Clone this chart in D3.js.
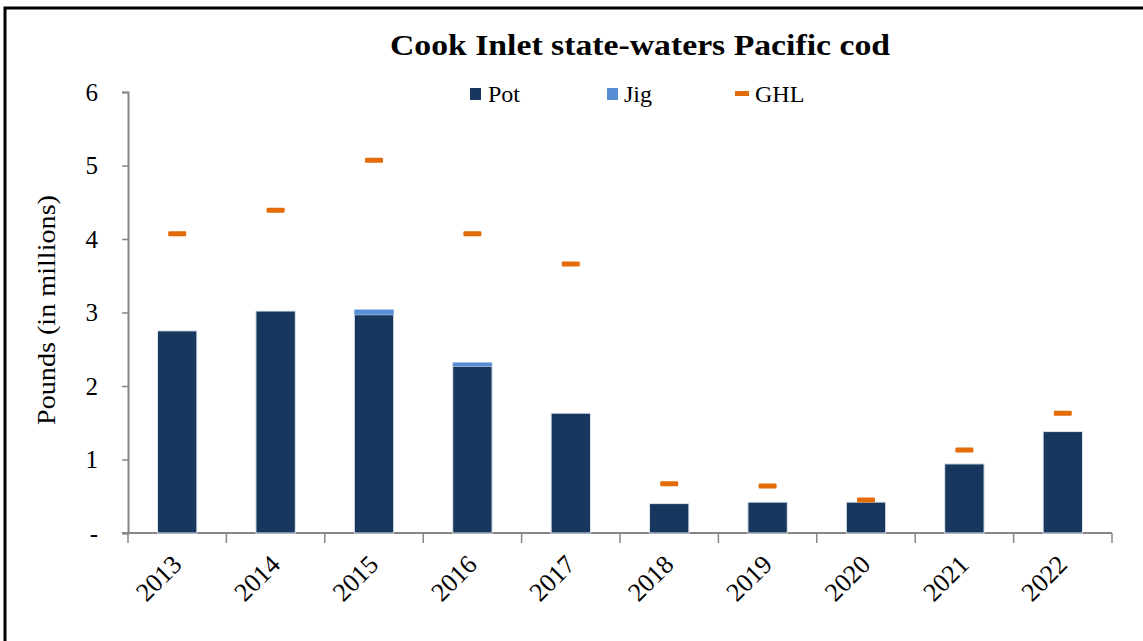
<!DOCTYPE html>
<html>
<head>
<meta charset="utf-8">
<script src="https://cdn.jsdelivr.net/npm/d3@7"></script>
<style>
  body { margin: 0; background: #fff; }
  svg { display: block; }
</style>
</head>
<body>
<svg></svg>
<script>
var years = ['2013', '2014', '2015', '2016', '2017', '2018', '2019', '2020', '2021', '2022'];
var pot = [2.75, 3.02, 2.97, 2.27, 1.63, 0.40, 0.42, 0.42, 0.94, 1.38];
var jig = [0.00, 0.00, 0.07, 0.05, 0.00, 0.00, 0.00, 0.00, 0.00, 0.00];
var ghl = [4.07, 4.39, 5.07, 4.07, 3.66, 0.67, 0.64, 0.45, 1.13, 1.63];
var yTicks = [0, 1, 2, 3, 4, 5, 6];

var width = 1143;
var height = 641;
var font = "'Liberation Serif', 'DejaVu Serif', serif";

var svg = d3.select('svg')
    .attr('width', width)
    .attr('height', height);

// outer frame
svg.append('rect')
    .attr('x', 5)
    .attr('y', 8)
    .attr('width', width + 20)
    .attr('height', height + 20)
    .attr('fill', 'none')
    .attr('stroke', '#000')
    .attr('stroke-width', 3);

var xScale = d3.scaleBand()
    .domain(years)
    .range([128, 1112])
    .paddingInner(0.6)
    .paddingOuter(0.3);

var yScale = d3.scaleLinear()
    .domain([0, 6])
    .range([533, 92]);

// title
svg.append('text')
    .attr('x', 640)
    .attr('y', 55)
    .attr('text-anchor', 'middle')
    .attr('textLength', 500)
    .attr('lengthAdjust', 'spacingAndGlyphs')
    .style('font-family', font)
    .style('font-weight', 'bold')
    .style('font-size', '30px')
    .text('Cook Inlet state-waters Pacific cod');

// y axis
var yAxis = d3.axisLeft(yScale)
    .tickValues(yTicks)
    .tickSize(6)
    .tickPadding(24)
    .tickFormat(d => d === 0 ? '-' : d);

var gy = svg.append('g')
    .attr('transform', 'translate(128,0)')
    .call(yAxis);
gy.select('.domain').attr('stroke', '#868686').attr('stroke-width', 2);
gy.selectAll('.tick line').attr('stroke', '#868686').attr('stroke-width', 1.5);
gy.selectAll('.tick text')
    .attr('fill', '#000')
    .style('font-family', font)
    .style('font-size', '25px');

// x axis line and band ticks
var bounds = years.map((d, i) => 128 + i * (1112 - 128) / years.length).concat([1112]);
svg.append('line')
    .attr('x1', 122).attr('x2', 1112)
    .attr('y1', yScale(0)).attr('y2', yScale(0))
    .attr('stroke', '#868686').attr('stroke-width', 2);
svg.selectAll('.xtick')
    .data(bounds)
    .enter()
    .append('line')
    .attr('class', 'xtick')
    .attr('x1', d => d).attr('x2', d => d)
    .attr('y1', yScale(0)).attr('y2', yScale(0) + 10)
    .attr('stroke', '#868686').attr('stroke-width', 1.5);

svg.selectAll('.xlabel')
    .data(years)
    .enter()
    .append('text')
    .attr('class', 'xlabel')
    .attr('text-anchor', 'end')
    .attr('transform', d => 'translate(' + (xScale(d) + xScale.bandwidth() / 2 + 6) + ',566) rotate(-45)')
    .style('font-family', font)
    .style('font-size', '26px')
    .text(d => d);

// y axis title
svg.append('text')
    .attr('transform', 'translate(55,310) rotate(-90)')
    .attr('text-anchor', 'middle')
    .attr('textLength', 230)
    .attr('lengthAdjust', 'spacingAndGlyphs')
    .style('font-family', font)
    .style('font-size', '25px')
    .text('Pounds (in millions)');

// pot bars
svg.selectAll('.pot')
    .data(years)
    .enter()
    .append('rect')
    .attr('class', 'pot')
    .attr('x', d => xScale(d))
    .attr('y', (d, i) => yScale(pot[i]))
    .attr('width', xScale.bandwidth())
    .attr('height', (d, i) => yScale(0) - yScale(pot[i]))
    .attr('fill', '#17375E')
    .attr('stroke', '#dde4ee')
    .attr('stroke-width', 1);

// jig bars stacked on pot
svg.selectAll('.jig')
    .data(years)
    .enter()
    .append('rect')
    .attr('class', 'jig')
    .attr('x', d => xScale(d))
    .attr('y', (d, i) => yScale(pot[i] + jig[i]))
    .attr('width', xScale.bandwidth())
    .attr('height', (d, i) => yScale(pot[i]) - yScale(pot[i] + jig[i]))
    .attr('fill', '#558ED5');

// GHL markers
svg.selectAll('.ghl')
    .data(years)
    .enter()
    .append('rect')
    .attr('class', 'ghl')
    .attr('x', d => xScale(d) + xScale.bandwidth() / 2 - 9)
    .attr('y', (d, i) => yScale(ghl[i]) - 2.5)
    .attr('width', 18)
    .attr('height', 5)
    .attr('rx', 1)
    .attr('fill', '#E36C09');

// legend
var legend = svg.append('g').attr('class', 'legend');
legend.append('rect').attr('x', 470).attr('y', 88).attr('width', 11).attr('height', 12).attr('fill', '#17375E');
legend.append('text').attr('x', 488).attr('y', 102).style('font-family', font).style('font-size', '24px').text('Pot');
legend.append('rect').attr('x', 607).attr('y', 88).attr('width', 11).attr('height', 12).attr('fill', '#558ED5');
legend.append('text').attr('x', 624).attr('y', 102).style('font-family', font).style('font-size', '24px').text('Jig');
legend.append('rect').attr('x', 735).attr('y', 91).attr('width', 14).attr('height', 5).attr('fill', '#E36C09');
legend.append('text').attr('x', 755).attr('y', 102).style('font-family', font).style('font-size', '24px').text('GHL');
</script>
</body>
</html>
